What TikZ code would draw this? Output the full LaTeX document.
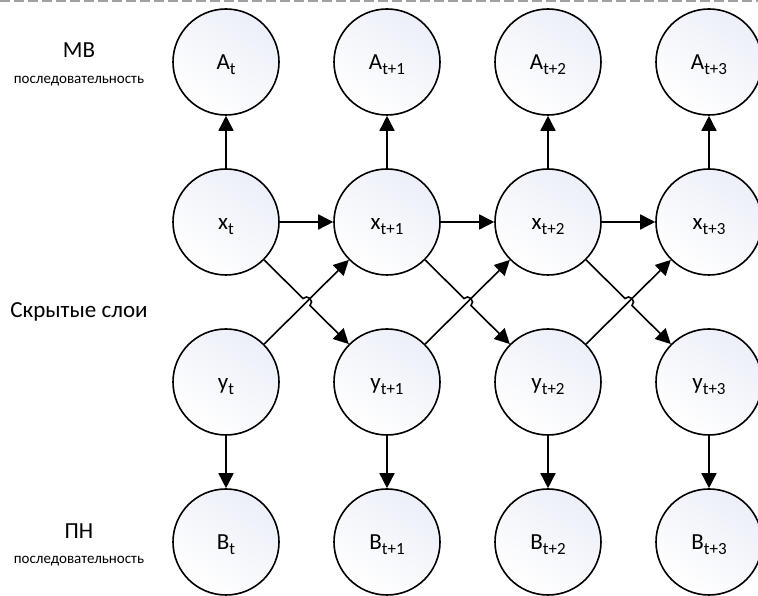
\documentclass[tikz,border=0pt]{standalone}
\usepackage{fontspec}
\setmainfont{Carlito}
\usetikzlibrary{arrows.meta,calc}

% lowered, smaller index after a variable letter
\newcommand\lowidx[1]{\raisebox{-5pt}{\fontsize{17}{18}\selectfont #1}}

\definecolor{nodefill}{RGB}{236,239,248}
\definecolor{dashgray}{RGB}{160,160,160}

\begin{document}
\begin{tikzpicture}[x=1pt,y=1pt,
  var/.style={circle, draw=black, line width=1.6pt, minimum size=106pt,
    inner sep=0pt, top color=nodefill, bottom color=white, shading angle=-35,
    font=\fontsize{23}{26}\selectfont, text height=16pt, text depth=0pt},
  conn/.style={line width=1.6pt, -{Triangle[length=15pt,width=15pt]}},
  lbl/.style={font=\fontsize{23}{26}\selectfont},
  sublbl/.style={font=\fontsize{15}{17}\selectfont}]

\useasboundingbox (0,0) rectangle (758,596);

% dashed frame edge along the top
\draw[dashgray, line width=2pt, dash pattern=on 10pt off 4pt] (0,595) -- (758,595);

% side captions
\node[lbl]    (capA)  at (79,546) {МВ};
\node[sublbl] (capA2) at (79,515) {последовательность};
\node[lbl]    (capH)  at (79,284) {Скрытые слои};
\node[lbl]    (capB)  at (79,65)  {ПН};
\node[sublbl] (capB2) at (79,35)  {последовательность};

% four time steps, four layers
\foreach \i/\px/\s in {0/226/t,1/387/t+1,2/548/t+2,3/709/t+3} {
  \node[var] (A\i) at (\px,534) {A\lowidx{\s}};
  \node[var] (x\i) at (\px,374) {x\lowidx{\s}};
  \node[var] (y\i) at (\px,214) {y\lowidx{\s}};
  \node[var] (B\i) at (\px,54)  {B\lowidx{\s}};
}

% vertical outputs
\foreach \i in {0,...,3} {
  \draw[conn] (x\i) -- (A\i);
  \draw[conn] (y\i) -- (B\i);
}

% transitions between consecutive steps, with a hop where the diagonals cross
\foreach \i/\j in {0/1,1/2,2/3} {
  \coordinate (h\i) at ($(x\i)!0.5!(y\j)$);
  \draw[conn] (x\i) -- (x\j);
  \draw[conn] (y\i) -- (x\j);
  \draw[conn] (x\i) -- ($(h\i)!5pt!(x\i)$)
    arc[start angle=135, end angle=-45, radius=5pt] -- (y\j);
}
\end{tikzpicture}
\end{document}
